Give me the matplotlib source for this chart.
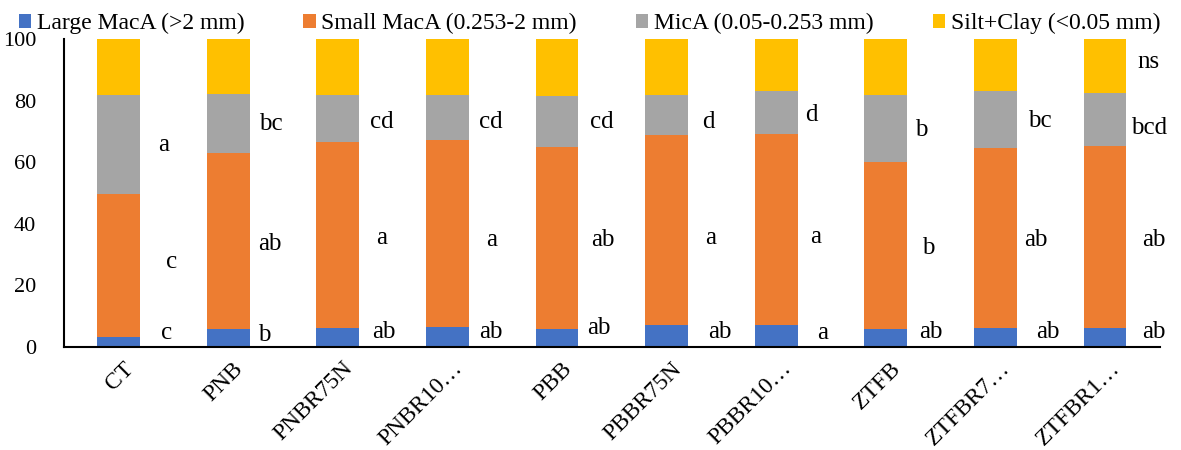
import matplotlib
matplotlib.use("Agg")
import matplotlib.pyplot as plt
import numpy as np

plt.rcParams['font.family'] = ['Liberation Serif', 'DejaVu Serif']

# data (%)
treatments = ['CT', 'PNB', 'PNBR75N', 'PNBR10…', 'PBB', 'PBBR75N', 'PBBR10…',
              'ZTFB', 'ZTFBR7…', 'ZTFBR1…']
large_maca = [3.2, 5.8, 6.2, 6.5, 5.8, 7.1, 7.1, 5.8, 6.2, 6.2]
small_maca = [46.5, 57.2, 60.4, 60.7, 59.2, 61.7, 62.1, 54.2, 58.4, 59.1]
mica = [32.1, 19.1, 15.4, 14.8, 16.5, 13.2, 13.8, 21.8, 18.5, 17.2]
silt_clay = [18.2, 17.9, 18.0, 18.0, 18.5, 18.0, 17.0, 18.2, 16.9, 17.5]

series_names = ['Large MacA (>2 mm)', 'Small MacA (0.253-2 mm)',
                'MicA (0.05-0.253 mm)', 'Silt+Clay (<0.05 mm)']
colors = ['#4472C4', '#ED7D31', '#A5A5A5', '#FFC000']

# significance letters: (bar index, text, x offset, y)
letters = [
    (0, 'a', 0.41, 65.6), (0, 'c', 0.48, 27.6), (0, 'c', 0.44, 4.5),
    (1, 'bc', 0.39, 72.4), (1, 'ab', 0.38, 33.4), (1, 'b', 0.33, 3.9),
    (2, 'cd', 0.40, 73.0), (2, 'a', 0.40, 35.4), (2, 'ab', 0.42, 4.9),
    (3, 'cd', 0.40, 73.0), (3, 'a', 0.40, 34.7), (3, 'ab', 0.40, 4.9),
    (4, 'cd', 0.41, 73.0), (4, 'ab', 0.42, 34.7), (4, 'ab', 0.38, 6.2),
    (5, 'd', 0.38, 73.0), (5, 'a', 0.40, 35.4), (5, 'ab', 0.49, 4.9),
    (6, 'd', 0.32, 75.3), (6, 'a', 0.36, 35.7), (6, 'a', 0.42, 4.5),
    (7, 'b', 0.32, 70.5), (7, 'b', 0.39, 32.1), (7, 'ab', 0.41, 4.9),
    (8, 'bc', 0.41, 73.4), (8, 'ab', 0.37, 34.7), (8, 'ab', 0.48, 4.9),
    (9, 'ns', 0.40, 92.5), (9, 'bcd', 0.40, 71.1), (9, 'ab', 0.45, 34.7),
    (9, 'ab', 0.45, 4.9),
]

fig = plt.figure(figsize=(11.81, 4.5), dpi=100)
ax = fig.add_axes([0.054, 0.229, 0.928, 0.684])

x = np.arange(len(treatments))
bottom = np.zeros(len(treatments))
for vals, name, c in zip([large_maca, small_maca, mica, silt_clay], series_names, colors):
    ax.bar(x, vals, 0.39, bottom=bottom, color=c, label=name)
    bottom += np.array(vals)

for i, txt, dx, y in letters:
    ax.text(i + dx, y, txt, ha='center', va='center', fontsize=18)

ax.set_xlim(-0.5, len(treatments) - 0.5)
ax.set_ylim(0, 100)
ax.set_yticks(range(0, 101, 20))
ax.set_xticks(x + 0.04)
ax.set_xticklabels(treatments, rotation=45, ha='right', rotation_mode='anchor')
ax.tick_params(axis='both', length=0)
ax.tick_params(axis='x', pad=8, labelsize=17)
ax.tick_params(axis='y', pad=20, labelsize=16)
for s in ['top', 'right']:
    ax.spines[s].set_visible(False)
for s in ['left', 'bottom']:
    ax.spines[s].set_linewidth(1.5)
    ax.spines[s].set_color('black')

fig.legend(loc='center left', bbox_to_anchor=(0.016, 0.947), ncol=4, frameon=False,
           fontsize=17, handlelength=0.51, handleheight=0.51, handletextpad=0.25,
           columnspacing=2.5, borderpad=0, borderaxespad=0)

fig.savefig('out.png', dpi=100)
